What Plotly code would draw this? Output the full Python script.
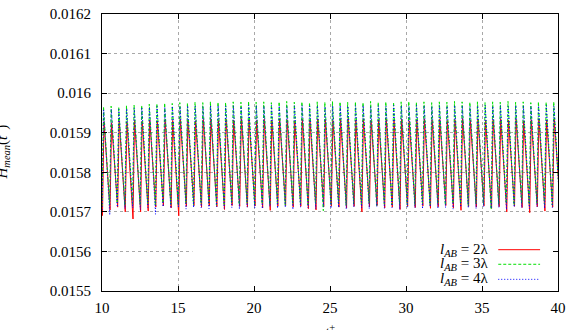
import plotly.graph_objects as go

# ---------------- data ----------------
x_ticks = [10, 15, 20, 25, 30, 35, 40]
x_tick_text = ["10", "15", "20", "25", "30", "35", "40"]
y_ticks = [0.0155, 0.0156, 0.0157, 0.0158, 0.0159, 0.0160, 0.0161, 0.0162]
y_tick_text = ["0.0155", "0.0156", "0.0157", "0.0158", "0.0159", "0.016", "0.0161", "0.0162"]

series_names = ["l_AB = 2λ", "l_AB = 3λ", "l_AB = 4λ"]

# times of the oscillation maxima (t+)
peak_times = [
    10.10, 10.60, 11.10, 11.61, 12.11, 12.61, 13.11, 13.61, 14.12, 14.62,
    15.12, 15.62, 16.12, 16.63, 17.13, 17.63, 18.13, 18.63, 19.14, 19.64,
    20.14, 20.64, 21.14, 21.65, 22.15, 22.65, 23.15, 23.65, 24.16, 24.66,
    25.16, 25.66, 26.16, 26.67, 27.17, 27.67, 28.17, 28.67, 29.18, 29.68,
    30.18, 30.68, 31.18, 31.69, 32.19, 32.69, 33.19, 33.69, 34.20, 34.70,
    35.20, 35.70, 36.20, 36.71, 37.21, 37.71, 38.21, 38.71, 39.22, 39.72,
]
start_time = 10.00
fall_time = 0.40          # time from a maximum to the following minimum
phase_lag = [0.03, 0.00, 0.01]   # small phase offset of each series

# l_AB = 2λ (red)
red_start = 0.015690
red_peaks = [
    0.015928, 0.015925, 0.015930, 0.015927, 0.015931, 0.015929, 0.015932, 0.015930, 0.015933, 0.015931,
    0.015934, 0.015932, 0.015930, 0.015933, 0.015935, 0.015931, 0.015934, 0.015932, 0.015936, 0.015933,
    0.015931, 0.015934, 0.015932, 0.015935, 0.015933, 0.015930, 0.015934, 0.015932, 0.015935, 0.015933,
    0.015931, 0.015934, 0.015936, 0.015932, 0.015934, 0.015931, 0.015933, 0.015935, 0.015932, 0.015934,
    0.015930, 0.015933, 0.015935, 0.015932, 0.015934, 0.015931, 0.015933, 0.015936, 0.015932, 0.015934,
    0.015931, 0.015933, 0.015935, 0.015932, 0.015934, 0.015930, 0.015933, 0.015935, 0.015932, 0.015934,
]
red_troughs = [
    0.015705, 0.015712, 0.015700, 0.015682, 0.015700, 0.015702, 0.015712, 0.015715, 0.015710, 0.015690,
    0.015714, 0.015716, 0.015712, 0.015715, 0.015713, 0.015706, 0.015716, 0.015714, 0.015712, 0.015715,
    0.015710, 0.015704, 0.015714, 0.015716, 0.015712, 0.015714, 0.015708, 0.015705, 0.015713, 0.015715,
    0.015712, 0.015710, 0.015714, 0.015700, 0.015713, 0.015716, 0.015710, 0.015712, 0.015706, 0.015714,
    0.015711, 0.015715, 0.015709, 0.015713, 0.015716, 0.015710, 0.015704, 0.015714, 0.015712, 0.015715,
    0.015709, 0.015713, 0.015700, 0.015714, 0.015711, 0.015698, 0.015713, 0.015702, 0.015712, 0.015715,
]

# l_AB = 3λ (green)
green_start = 0.015715
green_peaks = [
    0.015966, 0.015967, 0.015965, 0.015968, 0.015970, 0.015969, 0.015972, 0.015973, 0.015975, 0.015974,
    0.015976, 0.015975, 0.015977, 0.015976, 0.015978, 0.015977, 0.015976, 0.015978, 0.015977, 0.015979,
    0.015977, 0.015978, 0.015976, 0.015978, 0.015979, 0.015977, 0.015978, 0.015976, 0.015978, 0.015977,
    0.015979, 0.015978, 0.015977, 0.015978, 0.015976, 0.015979, 0.015977, 0.015978, 0.015977, 0.015978,
    0.015979, 0.015977, 0.015978, 0.015976, 0.015978, 0.015977, 0.015979, 0.015978, 0.015977, 0.015978,
    0.015976, 0.015978, 0.015977, 0.015979, 0.015977, 0.015978, 0.015976, 0.015978, 0.015977, 0.015978,
]
green_troughs = [
    0.015718, 0.015722, 0.015716, 0.015720, 0.015718, 0.015721, 0.015717, 0.015722, 0.015719, 0.015716,
    0.015721, 0.015718, 0.015720, 0.015722, 0.015717, 0.015719, 0.015721, 0.015718, 0.015722, 0.015716,
    0.015720, 0.015718, 0.015721, 0.015717, 0.015719, 0.015722, 0.015718, 0.015720, 0.015703, 0.015719,
    0.015721, 0.015717, 0.015720, 0.015718, 0.015722, 0.015716, 0.015720, 0.015718, 0.015721, 0.015717,
    0.015719, 0.015722, 0.015718, 0.015720, 0.015717, 0.015721, 0.015719, 0.015716, 0.015720, 0.015718,
    0.015706, 0.015719, 0.015721, 0.015717, 0.015720, 0.015718, 0.015722, 0.015719, 0.015717, 0.015720,
]

# l_AB = 4λ (blue)
blue_start = 0.015705
blue_peaks = [
    0.015958, 0.015960, 0.015959, 0.015961, 0.015962, 0.015963, 0.015964, 0.015966, 0.015965, 0.015967,
    0.015966, 0.015968, 0.015967, 0.015966, 0.015968, 0.015969, 0.015967, 0.015968, 0.015966, 0.015969,
    0.015968, 0.015967, 0.015969, 0.015968, 0.015966, 0.015968, 0.015969, 0.015967, 0.015968, 0.015966,
    0.015968, 0.015969, 0.015967, 0.015968, 0.015969, 0.015966, 0.015968, 0.015967, 0.015969, 0.015968,
    0.015967, 0.015969, 0.015968, 0.015966, 0.015968, 0.015967, 0.015969, 0.015968, 0.015966, 0.015968,
    0.015969, 0.015967, 0.015968, 0.015966, 0.015969, 0.015968, 0.015967, 0.015968, 0.015969, 0.015967,
]
blue_troughs = [
    0.015692, 0.015712, 0.015708, 0.015710, 0.015706, 0.015711, 0.015694, 0.015713, 0.015709, 0.015712,
    0.015707, 0.015711, 0.015710, 0.015708, 0.015713, 0.015709, 0.015711, 0.015707, 0.015712, 0.015710,
    0.015708, 0.015713, 0.015709, 0.015711, 0.015706, 0.015712, 0.015710, 0.015708, 0.015713, 0.015709,
    0.015711, 0.015707, 0.015712, 0.015710, 0.015708, 0.015713, 0.015709, 0.015711, 0.015706, 0.015712,
    0.015710, 0.015708, 0.015713, 0.015709, 0.015711, 0.015707, 0.015712, 0.015710, 0.015708, 0.015713,
    0.015709, 0.015711, 0.015706, 0.015712, 0.015710, 0.015708, 0.015713, 0.015709, 0.015711, 0.015707,
]

# ---------------- build the sawtooth paths from the read extrema ----------------
def build(start_val, peaks, troughs, lag):
    xs = [start_time + lag]
    ys = [start_val]
    for t, p, tr in zip(peak_times, peaks, troughs):
        xs += [t + lag, t + lag + fall_time]
        ys += [p, tr]
    return xs, ys

colors = ["#ff0000", "#00e000", "#0000ff"]
dashes = ["solid", "3px,2px", "1px,2px"]
series = [
    build(red_start, red_peaks, red_troughs, phase_lag[0]),
    build(green_start, green_peaks, green_troughs, phase_lag[1]),
    build(blue_start, blue_peaks, blue_troughs, phase_lag[2]),
]

fig = go.Figure()
for (xs, ys), c, d, n in zip(series, colors, dashes, series_names):
    fig.add_trace(go.Scatter(x=xs, y=ys, mode="lines", name=n,
                             line=dict(color=c, width=1, dash=d),
                             showlegend=False))

FONT = "'Liberation Serif', 'Times New Roman', 'DejaVu Serif', serif"
W, H = 572, 330
L, R, T, B = 102, 560, 6, 291   # plot area in pixels

fig.update_layout(
    width=W, height=H,
    margin=dict(l=L, r=W - R, t=T, b=H - B, pad=0),
    paper_bgcolor="white", plot_bgcolor="white",
    font=dict(family=FONT, size=15, color="black"),
    showlegend=False,
)

axis_common = dict(
    showline=True, linecolor="black", linewidth=1, mirror="ticks",
    ticks="inside", ticklen=5, tickwidth=1, tickcolor="black",
    showgrid=True, gridcolor="#a8a8a8", gridwidth=1, griddash="dot",
    zeroline=False, tickfont=dict(family=FONT, size=15, color="black"),
    ticklabeloverflow="allow",
)
fig.update_xaxes(range=[10, 40], tickvals=x_ticks, ticktext=x_tick_text,
                 ticklabelstandoff=3, **axis_common)
fig.update_yaxes(range=[0.0155, 0.0162], tickvals=y_ticks, ticktext=y_tick_text,
                 ticklabelstandoff=7, **axis_common)

# opaque key box (hides grid lines behind the key, as in the reference)
fig.add_shape(type="rect", xref="x", yref="y", x0=15.95, x1=40, y0=0.0155, y1=0.015625,
              fillcolor="white", line=dict(width=0), layer="between")

def px_to_paper_x(px):
    return (px - L) / (R - L)

def px_to_paper_y(py):
    return (B - py) / (B - T)

# key: text then line sample
key_rows = [248.5, 263.5, 279.0]
labels = ["<i>l</i><sub><i>AB</i></sub> = 2λ",
          "<i>l</i><sub><i>AB</i></sub> = 3λ",
          "<i>l</i><sub><i>AB</i></sub> = 4λ"]
for row, lab, c, d in zip(key_rows, labels, colors, dashes):
    fig.add_annotation(xref="paper", yref="paper", x=px_to_paper_x(492), y=px_to_paper_y(row),
                       text=lab, showarrow=False, xanchor="right", yanchor="middle",
                       font=dict(family=FONT, size=15, color="black"))
    fig.add_shape(type="line", xref="paper", yref="paper",
                  x0=px_to_paper_x(500), x1=px_to_paper_x(542),
                  y0=px_to_paper_y(row), y1=px_to_paper_y(row),
                  line=dict(color=c, width=1, dash=d))

# axis titles (partly cut off by the page edge, as in the reference)
fig.add_annotation(xref="paper", yref="paper", x=0, y=0.5, xshift=-101,
                   text="<i>H</i><sub><i>mean</i></sub>(<i>t</i><sup>+</sup>)",
                   textangle=-90, showarrow=False, xanchor="center", yanchor="middle",
                   font=dict(family=FONT, size=15, color="black"))
fig.add_annotation(xref="paper", yref="paper", x=0.5, y=0, yshift=-29,
                   text="<i>t</i><sup>+</sup>", showarrow=False,
                   xanchor="center", yanchor="top",
                   font=dict(family=FONT, size=15, color="black"))

fig.write_html("out.html")
